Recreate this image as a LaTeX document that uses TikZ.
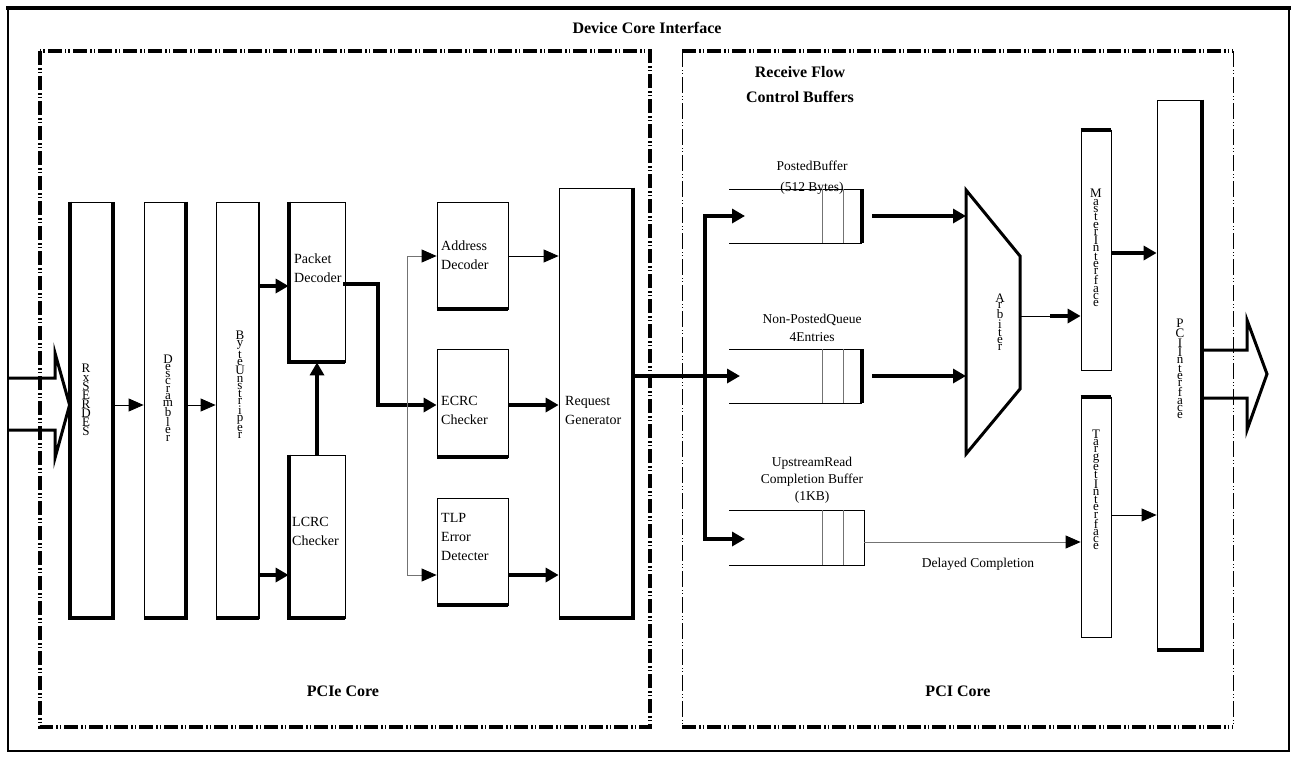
\documentclass[tikz,border=0pt]{standalone}
\usepackage{fontspec}
\setmainfont{Liberation Serif}
\usetikzlibrary{arrows.meta,calc}
\begin{document}
\begin{tikzpicture}[x=1pt,y=-1pt,
 blk/.style={draw, line width=0.8pt, inner sep=0pt},
 thk/.style={line width=4pt, line join=miter},
 thn/.style={line width=0.8pt, -{Triangle[length=15pt,width=13pt,color=black]}},
 tka/.style={line width=4pt, -{Triangle[length=13pt,width=14pt]}},
 gl/.style={line width=0.8pt, draw=black!55},
 lbl/.style={font=\fontsize{14}{19}\selectfont, align=left, inner sep=0pt, anchor=west},
 cl/.style={font=\fontsize{13.5}{17}\selectfont, align=center, inner sep=0pt},
 vst/.style={font=\fontsize{13}{7.2}\selectfont, align=center, inner sep=0pt},
 ttl/.style={font=\fontsize{16}{25}\selectfont\bfseries, align=center, inner sep=0pt},
 heavy/.style={line width=3.5pt, dash pattern=on 14pt off 3pt on 1.5pt off 2pt on 1.5pt off 3pt},
 light/.style={line width=0.8pt, dash pattern=on 16pt off 3pt on 1pt off 2pt on 1pt off 3pt},
]
\useasboundingbox (0,0) rectangle (1294,756);
% outer frame
\draw[line width=1.2pt] (8,8) rectangle (1289,751);
\draw[line width=4pt] (6,8) -- (1291,8);
\node[ttl] (title) at (647,28) {Device Core Interface};
% core containers
\draw[heavy] (40,51) rectangle (650,727);
\draw[heavy] (682,51) -- (1233,51);
\draw[heavy] (682,727) -- (1233,727);
\draw[light] (682,51) -- (682,727);
\draw[light] (1233,51) -- (1233,727);
\node[ttl] (pcietxt) at (343,691) {PCIe Core};
\node[ttl] (pcitxt) at (958,691) {PCI Core};
\node[ttl] (rfcb) at (800,85) {Receive Flow\\Control Buffers};

% PCIe blocks
\node[blk, minimum width=43, minimum height=416] (rx) at (91.5,410) {};
\node[blk, minimum width=42, minimum height=416] (desc) at (165,410) {};
\node[blk, minimum width=43, minimum height=416] (byte) at (237.5,410) {};
\node[blk, minimum width=56, minimum height=160] (pd) at (317,282) {};
\node[blk, minimum width=56, minimum height=163] (lcrc) at (317,536.5) {};
\node[blk, minimum width=71, minimum height=107] (ad) at (472.5,255.5) {};
\node[blk, minimum width=71, minimum height=108] (ecrc) at (472.5,403) {};
\node[blk, minimum width=71, minimum height=107] (tlp) at (472.5,551.5) {};
\node[blk, minimum width=74, minimum height=430] (rg) at (596,403) {};
% PCI blocks
\node[blk, minimum width=30, minimum height=240] (master) at (1096,250) {};
\node[blk, minimum width=30, minimum height=240] (target) at (1096,517) {};
\node[blk, minimum width=45, minimum height=550] (pci) at (1179.5,375) {};

% thick sides
\draw[thk] (rx.north west) -- (rx.south west) -- (rx.south east) -- (rx.north east);
\draw[thk] (desc.north east) -- (desc.south east) -- (desc.south west);
\draw[line width=2pt] (byte.north east) -- (byte.south east);
\draw[thk] (byte.south east) -- (byte.south west);
\draw[thk] (pd.north west) -- (pd.south west) -- (pd.south east);
\draw[thk] (lcrc.north west) -- (lcrc.south west) -- (lcrc.south east);
\draw[thk] (ad.south west) -- (ad.south east);
\draw[thk] (ecrc.south west) -- (ecrc.south east);
\draw[thk] (tlp.south west) -- (tlp.south east);
\draw[thk] (rg.north east) -- (rg.south east) -- (rg.south west);
\draw[thk] (master.north west) -- (master.north east);
\draw[line width=1.8pt] (master.north east) -- (master.south east);
\draw[thk] (target.north west) -- (target.north east);
\draw[line width=1.8pt] (target.north east) -- (target.south east);
\draw[thk] (pci.north east) -- (pci.south east) -- (pci.south west);

% texts in blocks
\node[vst, font=\fontsize{13}{9}\selectfont] (rxt) at (86,400) {R\\x\\S\\E\\R\\D\\E\\S};
\node[vst] (desct) at (168,398) {D\\e\\s\\c\\r\\a\\m\\b\\l\\e\\r};
\node[vst] (bytet) at (240,385) {B\\y\\t\\e\\U\\n\\s\\t\\r\\i\\p\\e\\r};
\node[lbl] (pdt) at (294,268) {Packet\\Decoder};
\node[lbl] (lcrct) at (292,531) {LCRC\\Checker};
\node[lbl] (adt) at (441,255) {Address\\Decoder};
\node[lbl] (ecrct) at (441,410) {ECRC\\Checker};
\node[lbl] (tlpt) at (441,537) {TLP\\Error\\Detecter};
\node[lbl] (rgt) at (565,410) {Request\\Generator};
\node[vst] (mastert) at (1096,248) {M\\a\\s\\t\\e\\r\\I\\n\\t\\e\\r\\f\\a\\c\\e};
\node[vst] (targett) at (1096,490) {T\\a\\r\\g\\e\\t\\I\\n\\t\\e\\r\\f\\a\\c\\e};
\node[vst] (pcit) at (1180,369) {P\\C\\I\\I\\n\\t\\e\\r\\f\\a\\c\\e};

% input / output hollow arrows
\coordinate (inTip) at (rx.west |- 0,405);
\draw[line width=3pt, line join=miter] (8,378) -- (55,378) -- (55,353) -- (inTip) -- (55,458) -- (55,430) -- (8,430);
\draw[line width=3pt, line join=miter] (pci.east |- 0,350) -- (1247,350) -- (1247,320) -- (1267,374) -- (1247,430) -- (1247,398) -- (pci.east |- 0,398);

% PCIe connectors
\draw[thn] (rx.east |- 0,405) -- (desc.west |- 0,405);
\draw[thn] (desc.east |- 0,405) -- (byte.west |- 0,405);
\draw[tka] (byte.east |- 0,286) -- (pd.west |- 0,286);
\draw[tka] (byte.east |- 0,575) -- (lcrc.west |- 0,575);
\draw[tka] (lcrc.north) -- (pd.south);
\coordinate (pdo) at (343,284);
\coordinate (bend) at (378,284);
\draw[tka, line join=miter] (pdo) -- (bend) -- (bend |- 0,405) -- (ecrc.west |- 0,405);
\coordinate (split) at (407,256);
\draw[gl] (split) -- (split |- 0,575);
\draw[thn, draw=black!55] (split) -- (ad.west |- split);
\draw[thn, draw=black!55] (split |- 0,575) -- (tlp.west |- 0,575);
\draw[thn] (ad.east |- 0,256) -- (rg.west |- 0,256);
\draw[tka] (ecrc.east |- 0,405) -- (rg.west |- 0,405);
\draw[tka] (tlp.east |- 0,575) -- (rg.west |- 0,575);

% buffers
\coordinate (pbin) at (745,216);
\coordinate (npin) at (740,376);
\coordinate (upin) at (745,539);
\coordinate (bus) at (705,376);
\draw[line width=0.8pt] (729,189) -- (862,189) (729,243) -- (862,243);
\draw[gl] (822,189) -- (822,243) (843,189) -- (843,243);
\draw[line width=4pt] (862,189) -- (862,243);
\draw[line width=0.8pt] (729,349) -- (862,349) (729,403) -- (862,403);
\draw[gl] (822,349) -- (822,403) (843,349) -- (843,403);
\draw[line width=4pt] (862,349) -- (862,403);
\draw[line width=0.8pt] (729,510) -- (864,510) -- (864,565) -- (729,565);
\draw[gl] (822,510) -- (822,565) (843,510) -- (843,565);
\node[cl] (pbl) at (812,166) {PostedBuffer};
\node[cl] (pbl2) at (812,188) {(512 Bytes)};
\node[cl] (npl) at (812,328) {Non-PostedQueue\\[1pt]4Entries};
\node[cl] (upl) at (812,480) {UpstreamRead\\Completion Buffer\\(1KB)};

\draw[thk] (rg.east |- bus) -- (bus);
\draw[line width=4pt, line cap=rect] (bus |- pbin) -- (bus |- upin);
\draw[tka] (bus |- pbin) -- (pbin);
\draw[tka] (bus) -- (npin);
\draw[tka] (bus |- upin) -- (upin);

% arbiter
\coordinate (arbTL) at (966,190);
\coordinate (arbBL) at (966,454);
\draw[line width=3pt, line join=miter] (arbTL) -- (1020,256) -- (1020,389) -- (arbBL) -- cycle;
\node[vst, font=\fontsize{13}{6.8}\selectfont] (arbt) at (1000,322) {A\\r\\b\\i\\t\\e\\r};
\draw[tka] (872,216) -- (arbTL |- 0,216);
\draw[tka] (872,376) -- (arbTL |- 0,376);
\coordinate (arbO) at (1020,316);
\coordinate (arbM) at (1050,316);
\draw[line width=0.8pt] (arbO) -- (arbM);
\draw[tka] (arbM) -- (master.west |- arbM);
\draw[tka] (master.east |- 0,253) -- (pci.west |- 0,253);
\draw[thn] (target.east |- 0,515) -- (pci.west |- 0,515);
\draw[thn, draw=black!55] (864,542) -- (target.west |- 0,542);
\node[cl] (dcl) at (978,564) {Delayed Completion};
\end{tikzpicture}
\end{document}
